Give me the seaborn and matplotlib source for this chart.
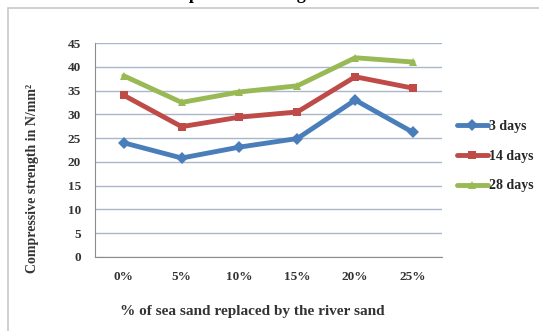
import matplotlib
matplotlib.use('Agg')
import matplotlib.pyplot as plt
import seaborn as sns
import pandas as pd
from matplotlib.patches import Rectangle

# data
replacement = ["0%", "5%", "10%", "15%", "20%", "25%"]
days_3 = [24.0, 20.8, 23.1, 24.9, 33.0, 26.2]
days_14 = [34.0, 27.4, 29.4, 30.5, 37.9, 35.5]
days_28 = [38.1, 32.5, 34.7, 36.0, 41.9, 41.0]
series_names = ["3 days", "14 days", "28 days"]

rows = []
for name, vals in zip(series_names, [days_3, days_14, days_28]):
    for i, v in enumerate(vals):
        rows.append({"pos": i, "strength": v, "age": name})
df = pd.DataFrame(rows)

sns.set_style("white")
plt.rcParams['font.family'] = ['Liberation Serif', 'DejaVu Serif']

fig = plt.figure(figsize=(5.39, 3.31), dpi=100)
ax = fig.add_axes([0.176, 0.224, 0.644, 0.646])

colors = {"3 days": "#4a7ebb", "14 days": "#be4b48", "28 days": "#98b954"}
markers = {"3 days": "D", "14 days": "s", "28 days": "^"}
sns.lineplot(data=df, x="pos", y="strength", hue="age", style="age",
             palette=colors, markers=markers, dashes=False, linewidth=3.5,
             markersize=6, markeredgewidth=0, ax=ax, legend=True)

ax.set_ylim(0, 45)
ax.set_xlim(-0.5, 5.5)
ax.set_yticks(range(0, 46, 5))
ax.set_yticklabels([str(v) for v in range(0, 46, 5)], fontsize=9.5, fontweight='bold', color='#333333')
ax.set_xticks([i - 0.5 for i in range(7)])
ax.set_xticklabels([])
ax.set_xticks(range(6), minor=True)
ax.set_xticklabels(replacement, minor=True, fontsize=9.5, fontweight='bold', color='#333333')
ax.tick_params(axis='x', which='minor', length=0, pad=10)
ax.tick_params(axis='x', which='major', length=4, color='#8c8c8c', direction='out')
ax.tick_params(axis='y', length=4, color='#8c8c8c', direction='out', pad=6)
ax.set_axisbelow(True)
ax.yaxis.grid(True, color='#a9b7cb', linewidth=1)
for s in ['top', 'right']:
    ax.spines[s].set_visible(False)
for s in ['left', 'bottom']:
    ax.spines[s].set_color('#8c8c8c')
    ax.spines[s].set_linewidth(0.8)
ax.set_xlabel("")
ax.set_ylabel("")

handles, labels = ax.get_legend_handles_labels()
ax.legend(handles, labels, loc='upper left', bbox_to_anchor=(0.825, 0.675),
          bbox_transform=fig.transFigure, frameon=False, handlelength=2.2,
          handletextpad=0.1, labelspacing=1.2,
          prop={'family': 'Liberation Serif', 'weight': 'bold', 'size': 10})

fig.text(0.06, 0.46, "Compressive strength in N/mm²", rotation=90,
         ha='center', va='center', fontsize=10, fontweight='bold', color='#333333')
fig.text(0.468, 0.06, "% of sea sand replaced by the river sand",
         ha='center', va='center', fontsize=11, fontweight='bold', color='#333333')
fig.text(0.44, 1.003, "Compressive Strength", ha='center', va='baseline',
         fontsize=13, fontweight='bold', color='black')

fig.patches.append(Rectangle((0.014, -0.05), 1.1, 1.025, transform=fig.transFigure,
                             fill=False, edgecolor='#c8c8c8', linewidth=1.2))

fig.savefig("out.png", dpi=100)
